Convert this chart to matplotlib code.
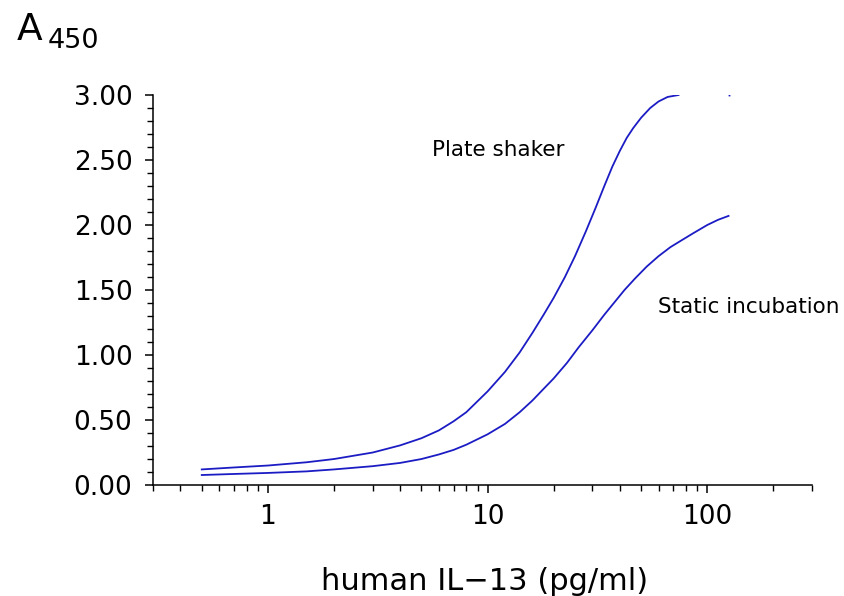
import matplotlib
matplotlib.use("Agg")
import matplotlib.pyplot as plt
from matplotlib.ticker import LogLocator, FixedLocator, MultipleLocator, FormatStrFormatter

# concentration (pg/ml) and A450
shaker_conc = [0.5, 0.7, 1, 1.5, 2, 3, 4, 5, 6, 7, 8, 10, 12, 14, 16, 18, 20,
               22.5, 25, 28, 31, 34, 37, 40, 43, 46, 50, 55, 60, 66, 74]
shaker_a450 = [0.12, 0.135, 0.15, 0.175, 0.20, 0.25, 0.305, 0.36, 0.42, 0.49,
               0.56, 0.72, 0.87, 1.02, 1.17, 1.31, 1.44, 1.60, 1.76, 1.95,
               2.13, 2.30, 2.45, 2.57, 2.67, 2.745, 2.825, 2.90, 2.95, 2.985,
               3.00]
shaker_clip_conc = [125]
shaker_clip_a450 = [3.00]

static_conc = [0.5, 0.7, 1, 1.5, 2, 3, 4, 5, 6, 7, 8, 10, 12, 14, 16, 18, 20,
               23, 26, 30, 34, 38, 42, 47, 53, 60, 68, 76, 86, 100, 112, 125]
static_a450 = [0.077, 0.085, 0.093, 0.105, 0.12, 0.145, 0.17, 0.20, 0.235,
               0.27, 0.31, 0.39, 0.47, 0.56, 0.65, 0.74, 0.82, 0.94, 1.06,
               1.19, 1.31, 1.41, 1.50, 1.59, 1.68, 1.76, 1.83, 1.88, 1.935,
               2.00, 2.04, 2.07]

x_major = [1, 10, 100]
x_labels = ["1", "10", "100"]

line_color = "#1c1cc4"

fig = plt.figure(figsize=(8.45, 5.96), dpi=100)
ax = fig.add_axes([0.1811, 0.1862, 0.7799, 0.6544])

ax.plot(shaker_conc, shaker_a450, color=line_color, lw=1.3)
ax.plot(shaker_clip_conc, shaker_clip_a450, "s", color=line_color, ms=1.3, mew=0)
ax.plot(static_conc, static_a450, color=line_color, lw=1.3)

ax.set_xscale("log")
ax.set_xlim(0.3, 300)
ax.set_ylim(0, 3.0)

ax.xaxis.set_major_locator(FixedLocator(x_major))
ax.set_xticklabels(x_labels)
ax.xaxis.set_minor_locator(LogLocator(base=10, subs=range(2, 10), numticks=20))
ax.xaxis.set_minor_formatter(plt.NullFormatter())

ax.yaxis.set_major_locator(MultipleLocator(0.5))
ax.yaxis.set_minor_locator(MultipleLocator(0.1))
ax.yaxis.set_major_formatter(FormatStrFormatter("%.2f"))

for side in ["top", "right"]:
    ax.spines[side].set_visible(False)
for side in ["left", "bottom"]:
    ax.spines[side].set_linewidth(1.1)

ax.tick_params(which="major", direction="out", length=5.8, width=1.1,
               labelsize=19, pad=9)
ax.tick_params(which="minor", direction="out", length=4.3, width=1.0)
ax.tick_params(axis="x", which="major", pad=8)

fig.text(485 / 845, 1 - 581 / 596, "human IL\u221213 (pg/ml)", fontsize=22,
         ha="center", va="center")

ax.text(5.59, 2.58, "Plate shaker", fontsize=15.5, va="center", ha="left")
ax.text(59.8, 1.37, "Static incubation", fontsize=15.5, va="center", ha="left",
        clip_on=False)

fig.text(17 / 845, 1 - 40 / 596, "A", fontsize=27, va="baseline", ha="left")
fig.text(48 / 845, 1 - 48 / 596, "450", fontsize=19.5, va="baseline", ha="left")

fig.savefig("out.png", dpi=100)
